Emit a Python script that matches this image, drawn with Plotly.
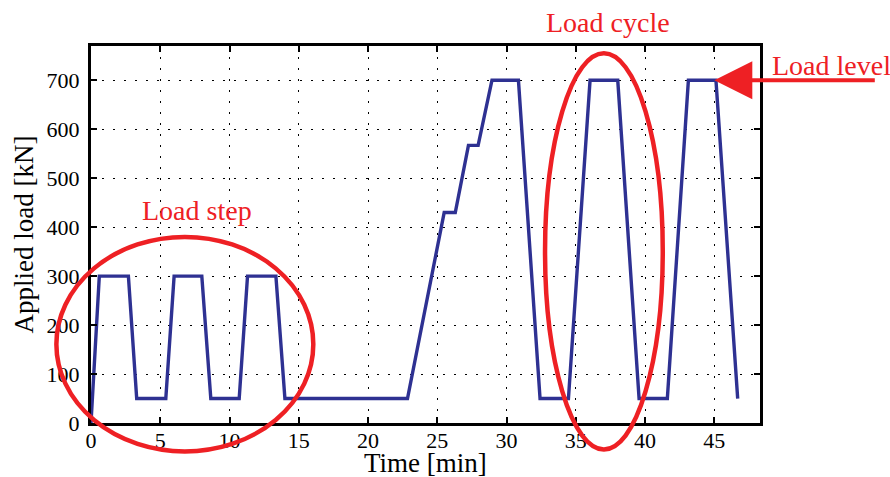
import plotly.graph_objects as go

# ---- data ----
time_min = [0, 0.6, 2.7, 3.3, 5.4, 6.0, 8.0, 8.65, 10.7, 11.3, 13.35, 14.0,
            22.85, 25.5, 26.3, 27.25, 27.95, 28.95, 30.86, 32.42, 34.47,
            36.03, 38.03, 39.57, 41.61, 43.13, 45.12, 46.69]
load_kn = [0, 300, 300, 50, 50, 300, 300, 50, 50, 300, 300, 50,
           50, 430, 430, 567, 567, 700, 700, 50, 50,
           700, 700, 50, 50, 700, 700, 50]

x_ticks = [0, 5, 10, 15, 20, 25, 30, 35, 40, 45]
y_ticks = [0, 100, 200, 300, 400, 500, 600, 700]
x_range = [0, 48.3]
y_range = [0, 770]

# annotation ellipses in data units: (x0, x1, y0, y1)
step_ellipse = (-2.5, 16.05, -58, 380)
cycle_ellipse = (32.78, 41.28, -54, 755)

FONT = "Liberation Serif"
BLUE = "#2E3192"
RED = "#EE2024"


def to_paper_x(v):
    return (v - x_range[0]) / (x_range[1] - x_range[0])


def to_paper_y(v):
    return (v - y_range[0]) / (y_range[1] - y_range[0])


fig = go.Figure()
fig.add_trace(go.Scatter(x=time_min, y=load_kn, mode="lines",
                         line=dict(color=BLUE, width=3.4),
                         showlegend=False, hoverinfo="x+y"))

for (ex0, ex1, ey0, ey1) in (step_ellipse, cycle_ellipse):
    fig.add_shape(type="circle", xref="paper", yref="paper",
                  x0=to_paper_x(ex0), x1=to_paper_x(ex1),
                  y0=to_paper_y(ey0), y1=to_paper_y(ey1),
                  line=dict(color=RED, width=4.5), layer="above")

red_font = dict(family=FONT, size=28, color=RED)
fig.add_annotation(xref="paper", yref="paper", x=to_paper_x(7.67),
                   y=to_paper_y(435), text="Load step", showarrow=False,
                   xanchor="center", yanchor="middle", font=red_font)
fig.add_annotation(xref="paper", yref="paper", x=to_paper_x(37.33),
                   y=to_paper_y(818), text="Load cycle", showarrow=False,
                   xanchor="center", yanchor="middle", font=red_font)
fig.add_annotation(xref="paper", yref="paper", x=to_paper_x(49.0),
                   y=to_paper_y(731), text="Load level", showarrow=False,
                   xanchor="left", yanchor="middle", font=red_font)
# arrow pointing to the load level
fig.add_annotation(x=45, y=700, text="", showarrow=True, ax=162, ay=0,
                   arrowhead=2, arrowsize=1.9, arrowwidth=4, arrowcolor=RED,
                   standoff=0)
# x-axis title (placed like the reference, close to the tick-label band)
fig.add_annotation(xref="paper", yref="paper", x=0.5, y=-0.106,
                   text="Time [min]", showarrow=False,
                   xanchor="center", yanchor="middle",
                   font=dict(family=FONT, size=27, color="black"))

axis_common = dict(showline=True, linewidth=3, linecolor="black", mirror="ticks",
                   ticks="inside", ticklen=6, tickwidth=2, tickcolor="black",
                   showgrid=True, gridcolor="black", gridwidth=1.3,
                   griddash="2px,9px", zeroline=False, automargin=False,
                   tickfont=dict(family=FONT, size=22, color="black"))

fig.update_xaxes(range=x_range, tickvals=x_ticks, ticklabelstandoff=-4,
                 **axis_common)
fig.update_yaxes(range=y_range, tickvals=y_ticks, ticklabelstandoff=4,
                 title=dict(text="Applied load [kN]", standoff=6,
                            font=dict(family=FONT, size=27, color="black")),
                 **axis_common)

fig.update_layout(template="none", width=890, height=477,
                  margin=dict(l=91, r=130, t=46, b=54),
                  plot_bgcolor="white", paper_bgcolor="white",
                  font=dict(family=FONT, color="black"))

fig.write_html("out.html", config={"displayModeBar": False},
               post_script="document.body.style.margin='0';"
                           "document.body.style.overflow='hidden';")
